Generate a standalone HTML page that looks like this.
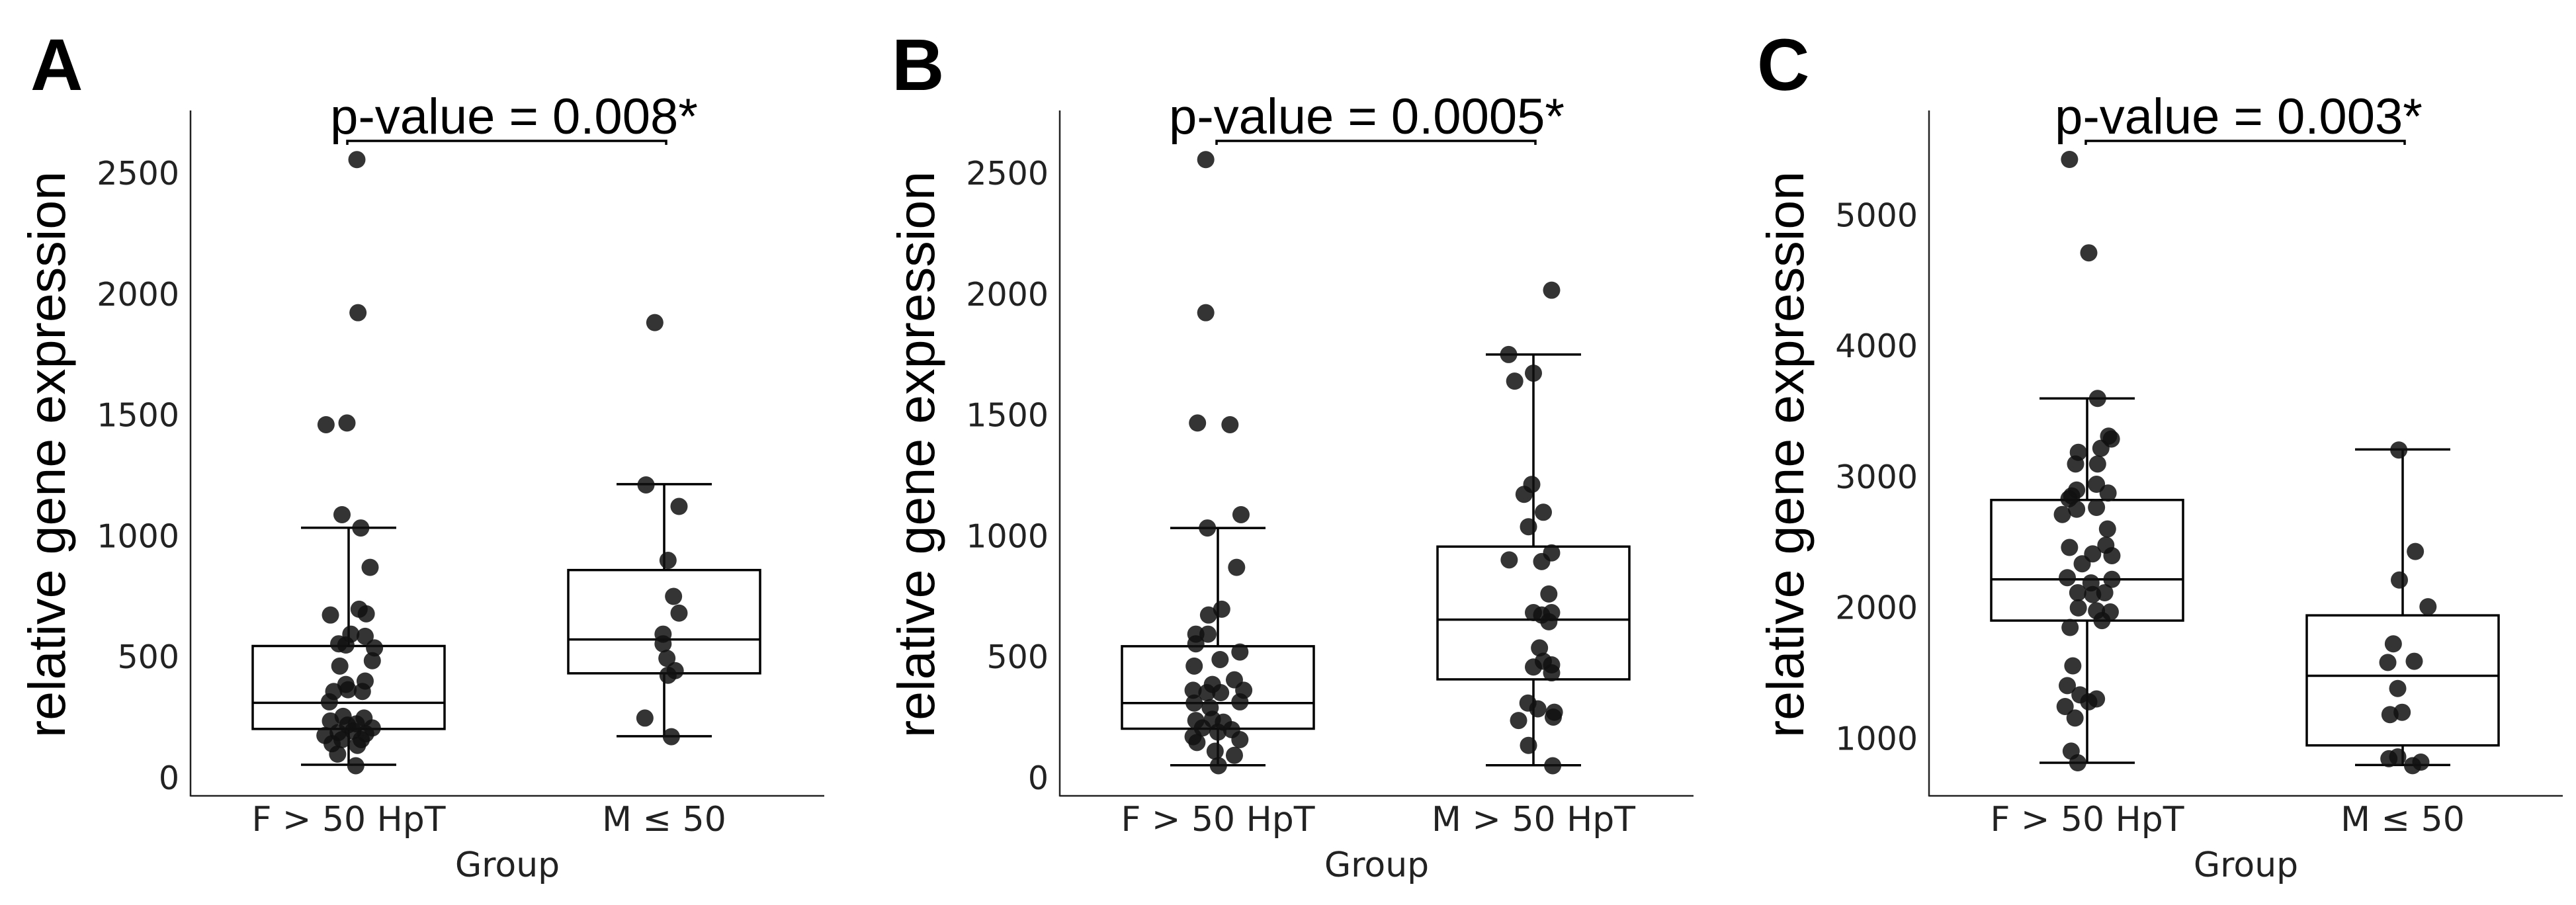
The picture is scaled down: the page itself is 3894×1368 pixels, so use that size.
<!DOCTYPE html>
<html><head><meta charset="utf-8"><style>html,body{margin:0;padding:0;background:#fff}svg{display:block}</style></head>
<body>
<svg id="fig" width="3894" height="1368" viewBox="0 0 3894 1368" xmlns="http://www.w3.org/2000/svg"></svg>
<script>
// ---- data ----
const catsA = ["F > 50 HpT", "M \u2264 50"];
const catsB = ["F > 50 HpT", "M > 50 HpT"];
const catsC = ["F > 50 HpT", "M \u2264 50"];
const pvalA = "p-value = 0.008*";
const pvalB = "p-value = 0.0005*";
const pvalC = "p-value = 0.003*";
const ticksAB = [0, 500, 1000, 1500, 2000, 2500];
const ticksC = [1000, 2000, 3000, 4000, 5000];
// boxes: [lowerWhisker, q1, median, q3, upperWhisker]
const boxAF = [52, 200, 308, 543, 1032];
const boxAM = [170, 430, 570, 857, 1212];
const boxBF = [50, 201, 307, 542, 1031];
const boxBM = [50, 405, 652, 954, 1748];
const boxCF = [809, 1896, 2211, 2818, 3594];
const boxCM = [792, 942, 1474, 1936, 3204];
// points (values) and jitter (in 1/573 of category step)
const ptsAF = [2554,1921,1458,1465,1086,1031,868,671,695,676,592,583,552,547,535,482,460,398,384,355,362,355,312,252,233,245,221,216,204,173,185,192,180,139,132,96,48,156,156];
const jitAF = [15,17,-41,-3,-12,22,39,-33,19,32,4,30,-18,-5,47,43,-16,30,-5,-27,-1,25,-35,-10,-33,28,14,-2,43,-43,-19,8,31,-30,16,-20,13,-12,23];
const ptsAM = [1880,1209,1120,897,748,679,592,552,492,441,422,245,168];
const jitAM = [-17,-33,27,7,17,27,-2,-2,5,20,7,-35,13];
const ptsBF = [2554,1921,1465,1458,1086,1031,868,695,671,592,592,552,518,487,460,403,384,360,350,350,360,312,307,288,235,240,228,204,187,197,168,156,144,108,91,48];
const jitBF = [-22,-22,-37,22,42,-19,34,7,-17,-40,-18,-40,40,4,-43,30,-10,-45,-20,5,47,40,-43,-14,-40,-10,10,-28,0,25,-45,40,-38,-5,30,1];
const ptsBM = [2014,1748,1671,1638,1211,1170,1096,1036,899,892,928,758,681,681,671,643,535,456,465,480,432,307,283,269,249,235,132,48];
const jitBM = [33,-45,0,-34,-3,-17,18,-9,-44,15,33,28,0,33,15,28,11,0,33,18,33,-10,8,38,36,-27,-9,35];
const ptsCF = [5421,4707,3594,3306,3284,3213,3182,3093,3093,2938,2894,2871,2849,2827,2761,2747,2707,2596,2455,2472,2406,2392,2330,2224,2211,2184,2109,2109,2095,1993,1971,1962,1896,1843,1550,1399,1328,1297,1275,1239,1151,898,809];
const jitCF = [-32,3,19,39,44,25,-16,-21,19,17,-19,38,-28,-33,17,-19,-45,37,-32,34,10,45,-9,-36,45,7,-17,32,10,-16,17,42,27,-31,-26,-36,-13,17,3,-40,-22,-29,-17];
const ptsCM = [3200,2424,2206,2002,1718,1576,1585,1377,1177,1195,840,854,787,814];
const jitCM = [-7,23,-6,46,-17,-27,21,-9,-23,-1,-25,-9,18,33];

// ---- drawing ----
const NS = "http://www.w3.org/2000/svg";
const svg = document.getElementById("fig");
function mk(tag, attrs, parent, text) {
  const e = document.createElementNS(NS, tag);
  for (const k in attrs) e.setAttribute(k, attrs[k]);
  if (text !== undefined) e.textContent = text;
  (parent || svg).appendChild(e);
  return e;
}
const STEP = 477;
const Y_TOP = 167, Y_BOT = 1203;
function drawPanel(letter, lx, axisX, cats, ticks, y0, pxPer, boxes, pts, jits, pval, pvx) {
  const g = mk("g", {});
  
  
  const yS = v => y0 - v * pxPer;
  const xC = i => axisX + 239 + i * STEP;
  const lt = mk("text", {x: lx, y: 136, "font-family": "Liberation Sans, Arial, sans-serif", "font-weight": "bold", "font-size": 110, fill: "#000"}, g, letter);
  
  
  const ya = mk("line", {x1: axisX, y1: Y_TOP, x2: axisX, y2: Y_BOT + 1, stroke: "#222", "stroke-width": 2.5}, g);
  
  
  const xa = mk("line", {x1: axisX, y1: Y_BOT, x2: axisX + 958, y2: Y_BOT, stroke: "#222", "stroke-width": 2.5}, g);
  
  
  ticks.forEach(t => {
    const tl = mk("text", {x: axisX - 17, y: yS(t) + 18, "text-anchor": "end", "font-family": "DejaVu Sans, sans-serif", "font-size": 49, fill: "#222"}, g, String(t));
    
    
  });
  const yt = mk("text", {x: 0, y: 0, transform: `translate(${axisX - 190},687) rotate(-90)`, "text-anchor": "middle", "font-family": "Liberation Sans, Arial, sans-serif", "font-size": 79, fill: "#000"}, g, "relative gene expression");
  
  
  cats.forEach((c, i) => {
    const xl = mk("text", {x: xC(i), y: 1256, "text-anchor": "middle", "font-family": "DejaVu Sans, sans-serif", "font-size": 52, fill: "#222"}, g, c);
    
    
  });
  const xt = mk("text", {x: axisX + 479, y: 1325, "text-anchor": "middle", "font-family": "DejaVu Sans, sans-serif", "font-size": 52, fill: "#222"}, g, "Group");
  
  
  boxes.forEach((b, i) => {
    const cx = xC(i), hw = 145, cap = 72;
    const bg = mk("g", {stroke: "#000", "stroke-width": 3.5, fill: "none"}, g);
    
    
    mk("line", {x1: cx, y1: yS(b[0]), x2: cx, y2: yS(b[1])}, bg);
    mk("line", {x1: cx, y1: yS(b[3]), x2: cx, y2: yS(b[4])}, bg);
    mk("line", {x1: cx - cap, y1: yS(b[0]), x2: cx + cap, y2: yS(b[0])}, bg);
    mk("line", {x1: cx - cap, y1: yS(b[4]), x2: cx + cap, y2: yS(b[4])}, bg);
    mk("rect", {x: cx - hw, y: yS(b[3]), width: 2 * hw, height: yS(b[1]) - yS(b[3]), fill: "#fff"}, bg);
    mk("line", {x1: cx - hw, y1: yS(b[2]), x2: cx + hw, y2: yS(b[2])}, bg);
  });
  pts.forEach((arr, i) => {
    arr.forEach((v, k) => {
      const p = mk("circle", {cx: xC(i) + jits[i][k] * STEP / 573, cy: yS(v), r: 13, fill: "#111", "fill-opacity": 0.85}, g);
      
      
    });
  });
  const br = mk("path", {d: `M${xC(0) - 2},219 V213 H${xC(1) + 3} V219`, stroke: "#000", "stroke-width": 3.5, fill: "none"}, g);
  
  
  const pt = mk("text", {x: pvx, y: 202, "text-anchor": "middle", "font-family": "Liberation Sans, Arial, sans-serif", "font-size": 76, fill: "#000"}, g, pval);
  
  
}
drawPanel("A", 46, 288, catsA, ticksAB, 1175, 0.3656, [boxAF, boxAM], [ptsAF, ptsAM], [jitAF, jitAM], pvalA, 777);
drawPanel("B", 1348, 1602, catsB, ticksAB, 1175, 0.3656, [boxBF, boxBM], [ptsBF, ptsBM], [jitBF, jitBM], pvalB, 2066);
drawPanel("C", 2656, 2916, catsC, ticksC, 1313, 0.19775, [boxCF, boxCM], [ptsCF, ptsCM], [jitCF, jitCM], pvalC, 3384);
</script>
</body></html>
